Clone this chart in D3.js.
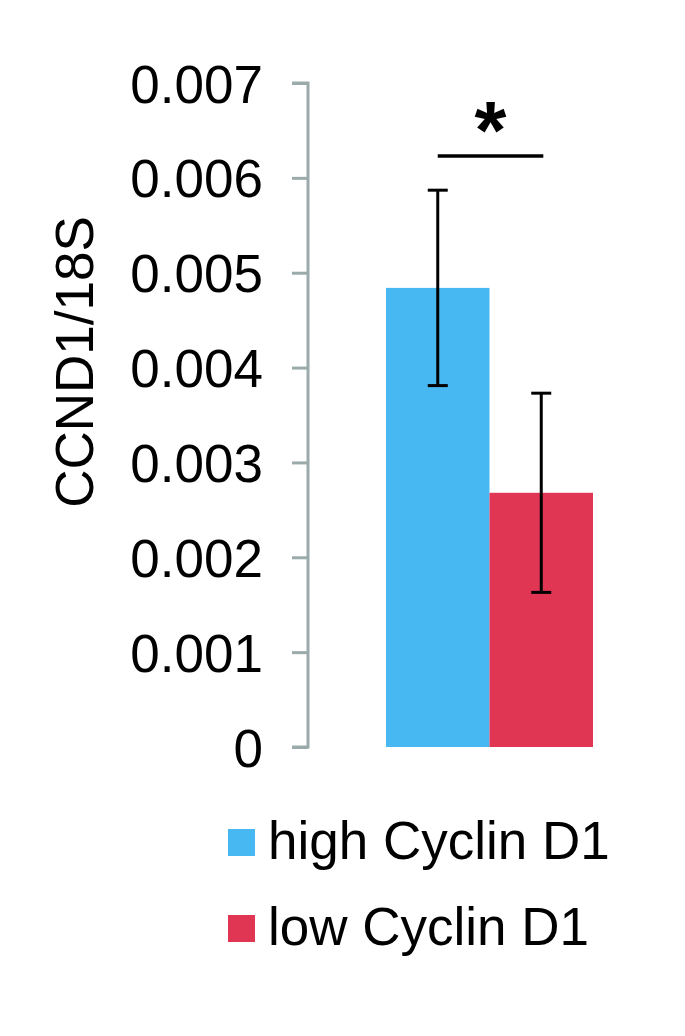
<!DOCTYPE html>
<html><head><meta charset="utf-8">
<script src="https://cdn.jsdelivr.net/npm/d3@7"></script>
<style>body{margin:0;background:#fff}svg{display:block}text{font-family:"Liberation Sans",Arial,sans-serif}</style>
</head><body>
<script>
const categories = ["high Cyclin D1", "low Cyclin D1"];
const values = [0.00484, 0.00268];
const errors = [0.00103, 0.00105];
const colors = ["#48B8F2", "#E03654"];
const yTicks = [0, 0.001, 0.002, 0.003, 0.004, 0.005, 0.006, 0.007];
const yTickLabels = ["0", "0.001", "0.002", "0.003", "0.004", "0.005", "0.006", "0.007"];
const yTitle = "CCND1/18S";
const sigLabel = "*";

const W = 685, H = 1036;
const svg = d3.select("body").append("svg").attr("width", W).attr("height", H);

const y = d3.scaleLinear().domain([0, 0.007]).range([747, 83]);
const x = d3.scaleBand().domain(categories).range([386, 593]).padding(0);

// axis
const axis = d3.axisLeft(y).tickValues(yTicks).tickFormat((d, i) => yTickLabels[i]).tickSize(16).tickPadding(29);
const gA = svg.append("g").attr("transform", "translate(308,0)").call(axis);
gA.select(".domain").attr("stroke", "#9BAAAA").attr("stroke-width", 3).attr("d", `M-16,${y(0.007)}H0V${y(0)}H-16`);
gA.selectAll(".tick line").attr("stroke", "#9BAAAA").attr("stroke-width", 3);
gA.selectAll(".tick text").attr("font-size", 53).attr("fill", "#000").attr("font-family", "'Liberation Sans',Arial,sans-serif").attr("dy", "0.36em");

// y title
svg.append("text").attr("transform", `translate(93,362) rotate(-90)`)
  .attr("text-anchor", "middle").attr("font-size", 53).text(yTitle);

// bars
svg.selectAll("rect.bar").data(categories).enter().append("rect")
  .attr("x", d => x(d)).attr("width", x.bandwidth())
  .attr("y", (d, i) => y(values[i])).attr("height", (d, i) => y(0) - y(values[i]))
  .attr("fill", (d, i) => colors[i]);

// error bars
categories.forEach((c, i) => {
  const cx = x(c) + x.bandwidth() / 2;
  const g = svg.append("g").attr("stroke", "#000").attr("stroke-width", 3);
  g.append("line").attr("x1", cx).attr("x2", cx).attr("y1", y(values[i] + errors[i])).attr("y2", y(values[i] - errors[i]));
  [values[i] + errors[i], values[i] - errors[i]].forEach(v => {
    g.append("line").attr("x1", cx - 10).attr("x2", cx + 10).attr("y1", y(v)).attr("y2", y(v));
  });
});

// significance
const c0 = x(categories[0]) + x.bandwidth() / 2, c1 = x(categories[1]) + x.bandwidth() / 2;
const sigY = y(0.00623);
svg.append("line").attr("x1", c0).attr("x2", c0 + (c1 - c0) * 1.02).attr("y1", sigY).attr("y2", sigY)
  .attr("stroke", "#000").attr("stroke-width", 3.5);
svg.append("text").attr("x", (c0 + c1) / 2 + 1).attr("y", sigY + 2).attr("text-anchor", "middle")
  .attr("font-size", 82).attr("font-weight", "bold").text(sigLabel);

// legend
const leg = svg.append("g");
categories.forEach((c, i) => {
  const ly = 829 + i * 86;
  leg.append("rect").attr("x", 228).attr("y", ly).attr("width", 27).attr("height", 27).attr("fill", colors[i]);
  leg.append("text").attr("x", 268).attr("y", ly + 30).attr("font-size", 53).text(c);
});
</script>
</body></html>
